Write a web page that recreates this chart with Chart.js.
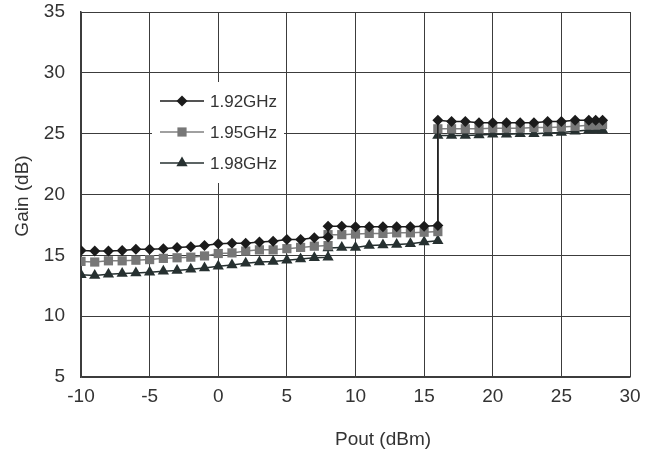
<!DOCTYPE html>
<html>
<head>
<meta charset="utf-8">
<script src="https://cdn.jsdelivr.net/npm/chart.js@4"></script>
<style>
  html, body { margin: 0; padding: 0; background: #fff; }
  #wrap { width: 657px; height: 461px; }
</style>
</head>
<body>
<div id="wrap"><canvas id="gainChart" width="657" height="461"></canvas></div>
<script>
// Pout (dBm); 8 and 16 appear twice because the curves jump there
const pout = [-10, -9, -8, -7, -6, -5, -4, -3, -2, -1, 0, 1, 2, 3, 4, 5, 6, 7, 8,
              8, 9, 10, 11, 12, 13, 14, 15, 16,
              16, 17, 18, 19, 20, 21, 22, 23, 24, 25, 26, 27, 27.5, 28];

const gain192 = [15.4, 15.35, 15.35, 15.4, 15.5, 15.5, 15.55, 15.65, 15.7, 15.8, 15.95, 16.0, 16.0, 16.1, 16.15, 16.3, 16.3, 16.45, 16.5,
                 17.4, 17.4, 17.35, 17.35, 17.35, 17.35, 17.35, 17.4, 17.45,
                 26.1, 26.0, 26.0, 25.9, 25.9, 25.9, 25.9, 25.9, 26.0, 26.0, 26.1, 26.1, 26.1, 26.1];
const gain195 = [14.5, 14.45, 14.55, 14.55, 14.6, 14.65, 14.75, 14.8, 14.85, 14.95, 15.15, 15.2, 15.35, 15.45, 15.45, 15.55, 15.65, 15.75, 15.8,
                 16.7, 16.7, 16.75, 16.8, 16.8, 16.85, 16.85, 16.9, 16.95,
                 25.4, 25.4, 25.4, 25.4, 25.45, 25.45, 25.45, 25.5, 25.5, 25.55, 25.6, 25.7, 25.7, 25.75];
const gain198 = [13.4, 13.35, 13.45, 13.5, 13.55, 13.6, 13.7, 13.75, 13.85, 13.95, 14.1, 14.2, 14.35, 14.45, 14.5, 14.6, 14.7, 14.8, 14.85,
                 15.6, 15.65, 15.65, 15.8, 15.85, 15.9, 15.95, 16.1, 16.2,
                 24.85, 24.85, 24.85, 24.9, 24.95, 24.95, 25.0, 25.0, 25.05, 25.1, 25.2, 25.3, 25.3, 25.3];

const seriesNames = ['1.92GHz', '1.95GHz', '1.98GHz'];
const xTicks = [-10, 30, 5];   // min, max, step
const yTicks = [5, 35, 5];

const FONT = '"Liberation Sans", Arial, sans-serif';
const TEXT = '#333333';
const GRID = '#3c3c3c';

function pts(ys) {
    return pout.map((x, i) => ({ x: x, y: ys[i] }));
}

function series(label, ys, color, lineColor, style, radius) {
    return {
        label: label,
        data: pts(ys),
        borderColor: lineColor,
        borderWidth: 1.5,
        backgroundColor: color,
        pointBackgroundColor: color,
        pointBorderColor: color,
        pointBorderWidth: 0,
        pointStyle: style,
        pointRadius: radius,
        tension: 0
    };
}

const datasets = [
    series(seriesNames[0], gain192, '#1b1b1b', '#1b1b1b', 'rectRot', 5.5),
    series(seriesNames[1], gain195, '#777777', '#808080', 'rect', 6.5),
    series(seriesNames[2], gain198, '#263030', '#263030', 'triangle', 6.5)
];

// legend drawn inside the plot, on a white box
const boxLegend = {
    id: 'boxLegend',
    afterDraw(chart) {
        const ctx = chart.ctx;
        ctx.save();
        ctx.fillStyle = '#fff';
        ctx.fillRect(152, 82, 132, 101);
        chart.data.datasets.forEach((ds, i) => {
            const y = 101 + i * 31;
            ctx.strokeStyle = ds.borderColor;
            ctx.lineWidth = 1.5;
            ctx.beginPath();
            ctx.moveTo(160, y);
            ctx.lineTo(204, y);
            ctx.stroke();
            ctx.fillStyle = ds.pointBackgroundColor;
            ctx.strokeStyle = ds.pointBorderColor;
            Chart.helpers.drawPoint(ctx, { pointStyle: ds.pointStyle, radius: ds.pointRadius, rotation: 0, borderWidth: 0 }, 182, y);
            ctx.fillStyle = TEXT;
            ctx.font = '17px ' + FONT;
            ctx.textAlign = 'left';
            ctx.textBaseline = 'middle';
            ctx.fillText(ds.label, 210, y + 1);
        });
        ctx.restore();
    }
};

const axisTitles = {
    id: 'axisTitles',
    afterDraw(chart) {
        const ctx = chart.ctx;
        ctx.save();
        ctx.fillStyle = TEXT;
        ctx.font = '19px ' + FONT;
        ctx.textAlign = 'center';
        ctx.textBaseline = 'middle';
        ctx.fillText('Pout (dBm)', 383, 440);
        ctx.translate(23, 196);
        ctx.rotate(-Math.PI / 2);
        ctx.fillText('Gain (dB)', 0, 0);
        ctx.restore();
    }
};

new Chart(document.getElementById('gainChart'), {
    type: 'line',
    data: { datasets: datasets },
    options: {
        responsive: false,
        animation: false,
        layout: { padding: { left: 0, right: 27, top: 12, bottom: 0 } },
        plugins: { legend: { display: false }, tooltip: { enabled: false } },
        scales: {
            x: {
                type: 'linear',
                min: xTicks[0], max: xTicks[1],
                ticks: { stepSize: xTicks[2], color: TEXT, font: { size: 19, family: FONT }, padding: 8, maxRotation: 0 },
                grid: { color: GRID, lineWidth: 1, drawTicks: false },
                border: { color: GRID, width: 1.5 },
                afterFit(s) { s.height = 84; s.paddingLeft = 0; s.paddingRight = 0; }
            },
            y: {
                min: yTicks[0], max: yTicks[1],
                ticks: { stepSize: yTicks[2], color: TEXT, font: { size: 19, family: FONT }, padding: 16 },
                grid: { color: GRID, lineWidth: 1, drawTicks: false },
                border: { color: GRID, width: 1.5 },
                afterFit(s) { s.width = 81; s.paddingTop = 0; s.paddingBottom = 0; }
            }
        }
    },
    plugins: [boxLegend, axisTitles]
});
</script>
</body>
</html>
